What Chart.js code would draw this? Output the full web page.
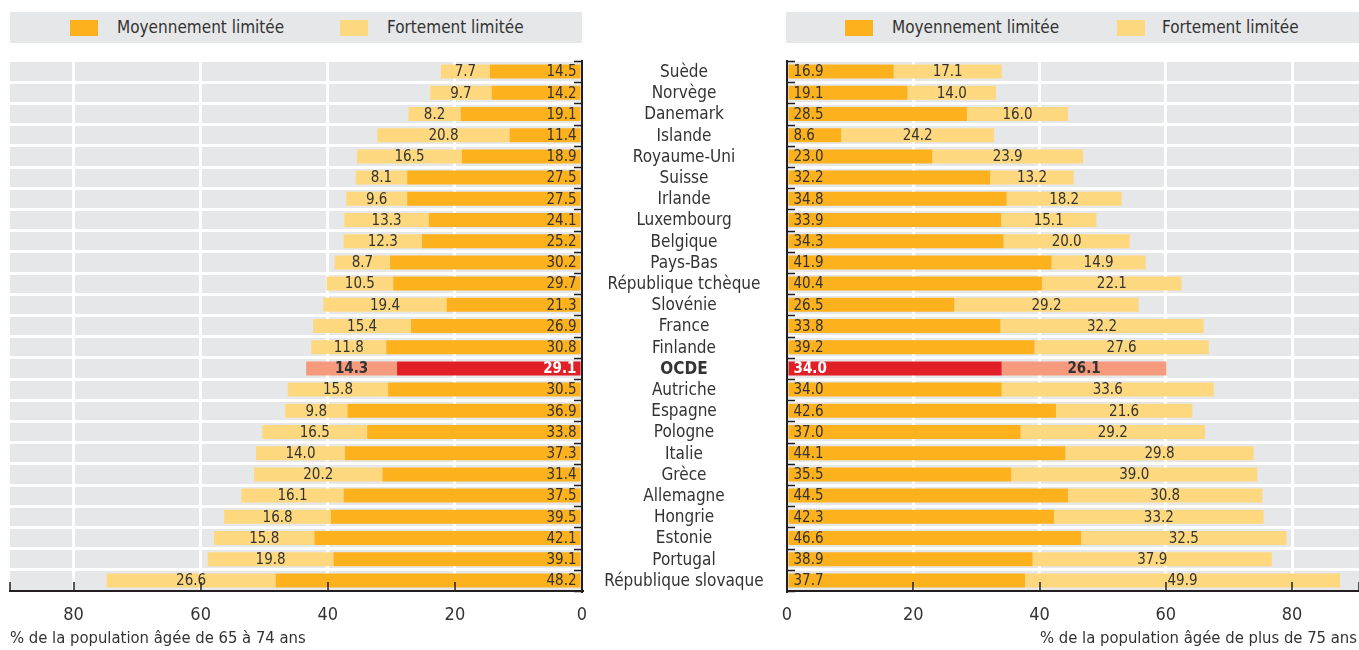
<!DOCTYPE html>
<html lang="fr">
<head>
<meta charset="utf-8">
<title>Limitations dans les activités quotidiennes</title>
<script src="https://cdn.jsdelivr.net/npm/chart.js@4.4.1/dist/chart.umd.min.js"></script>
<style>
  body { margin: 0; background: #fff; font-family: 'Liberation Sans Narrow', 'DejaVu Sans Condensed', sans-serif; color: #333; }
  #wrap { position: relative; width: 1359px; height: 650px; overflow: hidden; }
  .legend { position: absolute; top: 12px; height: 31px; background: #e6e7e8; }
  .key { position: absolute; top: 8px; width: 28px; height: 16px; }
  .keytxt { position: absolute; top: 4px; font-size: 17px; line-height: 22px; white-space: nowrap; }
  canvas { position: absolute; top: 0; }
  .axtitle { position: absolute; top: 628px; font-size: 16.5px; line-height: 20px; white-space: nowrap; }
</style>
</head>
<body>
<div id="wrap">
  <div class="legend" style="left:10px;width:572px">
    <div class="key" style="left:60px;background:#fdb11c"></div>
    <div class="keytxt" style="left:107px">Moyennement limitée</div>
    <div class="key" style="left:330px;background:#fed87e"></div>
    <div class="keytxt" style="left:377px">Fortement limitée</div>
  </div>
  <div class="legend" style="left:786px;width:573px">
    <div class="key" style="left:59px;background:#fdb11c"></div>
    <div class="keytxt" style="left:106px">Moyennement limitée</div>
    <div class="key" style="left:331px;background:#fed87e"></div>
    <div class="keytxt" style="left:376px">Fortement limitée</div>
  </div>

  <canvas id="left" width="786" height="650" style="left:0;width:786px;height:650px"></canvas>
  <canvas id="right" width="593" height="650" style="left:766px;width:593px;height:650px"></canvas>

  <div class="axtitle" style="left:10px">% de la population âgée de 65 à 74 ans</div>
  <div class="axtitle" style="right:2px">% de la population âgée de plus de 75 ans</div>
</div>

<script>
const FONT = "'Liberation Sans Narrow', 'DejaVu Sans Condensed', sans-serif";

const countries = [
  'Suède', 'Norvège', 'Danemark', 'Islande', 'Royaume-Uni', 'Suisse', 'Irlande',
  'Luxembourg', 'Belgique', 'Pays-Bas', 'République tchèque', 'Slovénie', 'France',
  'Finlande', 'OCDE', 'Autriche', 'Espagne', 'Pologne', 'Italie', 'Grèce',
  'Allemagne', 'Hongrie', 'Estonie', 'Portugal', 'République slovaque'
];

// 65-74 ans
const moy6574 = [14.5, 14.2, 19.1, 11.4, 18.9, 27.5, 27.5, 24.1, 25.2, 30.2, 29.7, 21.3, 26.9,
                 30.8, 29.1, 30.5, 36.9, 33.8, 37.3, 31.4, 37.5, 39.5, 42.1, 39.1, 48.2];
const fort6574 = [7.7, 9.7, 8.2, 20.8, 16.5, 8.1, 9.6, 13.3, 12.3, 8.7, 10.5, 19.4, 15.4,
                  11.8, 14.3, 15.8, 9.8, 16.5, 14.0, 20.2, 16.1, 16.8, 15.8, 19.8, 26.6];

// plus de 75 ans
const moy75 = [16.9, 19.1, 28.5, 8.6, 23.0, 32.2, 34.8, 33.9, 34.3, 41.9, 40.4, 26.5, 33.8,
               39.2, 34.0, 34.0, 42.6, 37.0, 44.1, 35.5, 44.5, 42.3, 46.6, 38.9, 37.7];
const fort75 = [17.1, 14.0, 16.0, 24.2, 23.9, 13.2, 18.2, 15.1, 20.0, 14.9, 22.1, 29.2, 32.2,
                27.6, 26.1, 33.6, 21.6, 29.2, 29.8, 39.0, 30.8, 33.2, 32.5, 37.9, 49.9];

const xTicks = [0, 20, 40, 60, 80];

const ocdeIndex = countries.indexOf('OCDE');
const ORANGE = '#fdb11c', LIGHT = '#fed87e', RED = '#e11f27', SALMON = '#f59a7c';
const GREY = '#e6e7e8', INK = '#231f20';

const colorsFor = (base, hi) => countries.map((c, i) => i === ocdeIndex ? hi : base);

// grey panel behind the bars
const plotBg = {
  id: 'plotBg',
  beforeDraw(chart) {
    const { ctx, chartArea: a } = chart;
    ctx.save();
    ctx.fillStyle = GREY;
    ctx.fillRect(a.left, a.top, a.right - a.left, a.bottom - a.top);
    ctx.restore();
  }
};

// small ticks pointing into the plot, on both axis lines
const innerTicks = {
  id: 'innerTicks',
  afterDatasetsDraw(chart, args, opts) {
    const { ctx, chartArea: a, scales: { x, y } } = chart;
    const edge = opts.side === 'left' ? a.right : a.left;
    const dir = opts.side === 'left' ? -1 : 1;
    ctx.save();
    ctx.strokeStyle = INK;
    ctx.lineWidth = 1.5;
    ctx.beginPath();
    for (let i = 0; i <= countries.length; i++) {
      const py = Math.round(y.getPixelForValue(i - 0.5)) + 0.5;
      ctx.moveTo(edge, py);
      ctx.lineTo(edge + dir * 8, py);
    }
    xTicks.forEach(v => {
      const px = Math.round(x.getPixelForValue(v));
      ctx.moveTo(px, a.bottom);
      ctx.lineTo(px, a.bottom - 9);
    });
    const far = opts.side === 'left' ? a.left : a.right;
    ctx.moveTo(far, a.bottom);
    ctx.lineTo(far, a.bottom - 9);
    ctx.stroke();
    ctx.restore();
  }
};

// value written on each segment
const barLabels = {
  id: 'barLabels',
  afterDatasetsDraw(chart, args, opts) {
    const ctx = chart.ctx;
    chart.data.datasets.forEach((ds, di) => {
      chart.getDatasetMeta(di).data.forEach((bar, i) => {
        const bold = i === ocdeIndex;
        let x;
        ctx.save();
        ctx.font = (bold ? 'bold ' : '') + '15px ' + FONT;
        ctx.textBaseline = 'middle';
        if (di === 0) {
          ctx.fillStyle = bold ? '#fff' : '#333';
          if (opts.side === 'left') { ctx.textAlign = 'right'; x = bar.base - 4; }
          else { ctx.textAlign = 'left'; x = bar.base + 5; }
        } else {
          ctx.fillStyle = '#333';
          ctx.textAlign = 'center';
          x = (bar.x + bar.base) / 2;
        }
        ctx.fillText(ds.data[i].toFixed(1), x, bar.y + 1);
        ctx.restore();
      });
    });
  }
};

// country names in the gap between the two panels
const countryNames = {
  id: 'countryNames',
  afterDraw(chart, args, opts) {
    if (!opts.show) return;
    const { ctx, chartArea: a, scales: { y } } = chart;
    const cx = (a.right + chart.width) / 2;
    ctx.save();
    ctx.textAlign = 'center';
    ctx.textBaseline = 'middle';
    ctx.fillStyle = '#333';
    countries.forEach((c, i) => {
      ctx.font = (i === ocdeIndex ? 'bold ' : '') + '17px ' + FONT;
      ctx.fillText(c, cx, y.getPixelForValue(i) + 1);
    });
    ctx.restore();
  }
};

function makeChart(id, moy, fort, side, max) {
  return new Chart(document.getElementById(id), {
    type: 'bar',
    data: {
      labels: countries,
      datasets: [
        { label: 'Moyennement limitée', data: moy, backgroundColor: colorsFor(ORANGE, RED) },
        { label: 'Fortement limitée', data: fort, backgroundColor: colorsFor(LIGHT, SALMON) }
      ]
    },
    options: {
      indexAxis: 'y',
      responsive: false,
      animation: false,
      barPercentage: 0.66,
      categoryPercentage: 1,
      layout: { padding: { left: side === 'left' ? 10 : 0, right: 0, top: 61, bottom: 19 } },
      plugins: {
        legend: { display: false },
        tooltip: { enabled: false },
        innerTicks: { side },
        barLabels: { side },
        countryNames: { show: side === 'left' }
      },
      scales: {
        x: {
          type: 'linear',
          min: 0,
          max: max,
          reverse: side === 'left',
          stacked: true,
          grid: {
            color: ctx => ctx.tick && ctx.tick.value === 0 ? 'rgba(0,0,0,0)' : '#fff',
            lineWidth: 3,
            drawTicks: false
          },
          border: { color: INK, width: 2 },
          ticks: { stepSize: 20, includeBounds: false, padding: 14, color: '#333', font: { size: 18, family: FONT } },
          afterFit: s => { s.height = 40; }
        },
        y: {
          type: 'category',
          stacked: true,
          position: side === 'left' ? 'right' : 'left',
          offset: true,
          grid: { offset: true, color: '#fff', lineWidth: 3, drawTicks: false },
          border: { color: INK, width: 2 },
          ticks: { display: false },
          // right panel: 20px gutter leaves room for the "0" label, canvas starts 20px early
          afterFit: s => { s.width = side === 'left' ? 204 : 21; }
        }
      }
    },
    plugins: [plotBg, innerTicks, barLabels, countryNames]
  });
}

makeChart('left', moy6574, fort6574, 'left', 90);
makeChart('right', moy75, fort75, 'right', 90.6);
</script>
</body>
</html>
